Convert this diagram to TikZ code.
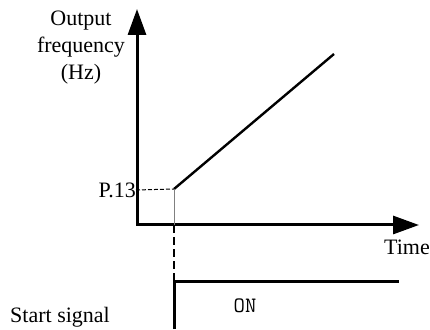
\documentclass[tikz,border=0pt]{standalone}
\usepackage{fontspec}
\setmainfont{Liberation Serif}
\usetikzlibrary{arrows.meta, positioning}

\tikzset{
  axis/.style={line width=3pt, -{Triangle[length=26pt, width=18pt]}},
  lbl/.style={inner sep=0pt, font=\fontsize{22}{27}\selectfont}
}

\begin{document}
\begin{tikzpicture}[x=1pt, y=1pt]
  \useasboundingbox (0,0) rectangle (430,329);

  % Axes
  \coordinate (O) at (137,104);
  \coordinate (ytip) at (137,320);
  \coordinate (xtip) at (419,104);
  \draw[axis, line cap=rect] (O) -- (ytip);
  \draw[axis] (O) -- (xtip);

  % Frequency ramp starting at P.13
  \coordinate (P) at (174,140);
  \coordinate (R) at (334,275);
  \draw[line width=2.4pt] (P) -- (R);
  \draw[gray, line width=1pt] (P) -- (P |- O);

  % Labels
  \node[lbl, align=center, anchor=north] (ylabel) at (81,318)
    {Output\\frequency\\(Hz)};
  \node[lbl, anchor=east] (p13) at (136,139) {P.13};
  \draw[line width=1pt, dash pattern=on 4pt off 2pt] (p13.east) -- (P);
  \node[lbl] (time) at (407,82) {Time};

  % Start signal
  \coordinate (S) at (174,48);
  \coordinate (Send) at (399,48);
  \draw[line width=1.8pt, dash pattern=on 8pt off 4pt] (P |- O) -- (S);
  \draw[line width=3pt] (S |- 0,0) -- (S) -- (Send);
  \node[inner sep=0pt, font=\fontsize{22}{24}\ttfamily] (on) at (245,23) {ON};
  \node[lbl] (start) at (60,12) {Start signal};
\end{tikzpicture}
\end{document}
